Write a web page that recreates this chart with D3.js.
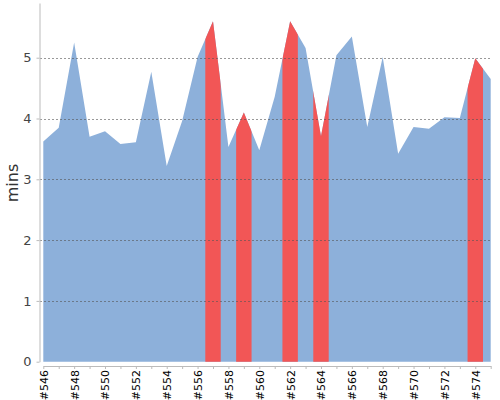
<!DOCTYPE html>
<html>
<head>
<meta charset="utf-8">
<script src="https://cdn.jsdelivr.net/npm/d3@7"></script>
<style>
  body { margin: 0; background: #fff; }
  svg text { font-family: "DejaVu Sans", sans-serif; }
  .y-axis text { fill: #444; font-size: 13px; }
  .x-axis text { fill: #000; font-size: 11px; }
  .axis path, .axis line { stroke: #bbb; }
</style>
</head>
<body>
<div id="chart"></div>
<script>
  var svgWidth = 500;
  var svgHeight = 400;

  // build labels #546 .. #575
  var builds = ["#546", "#547", "#548", "#549", "#550", "#551", "#552", "#553", "#554", "#555",
    "#556", "#557", "#558", "#559", "#560", "#561", "#562", "#563", "#564", "#565",
    "#566", "#567", "#568", "#569", "#570", "#571", "#572", "#573", "#574", "#575"];

  var durations = [3.62, 3.85, 5.25, 3.70, 3.79, 3.58, 3.61, 4.77, 3.22, 3.96,
    5.01, 5.60, 3.53, 4.10, 3.48, 4.36, 5.60, 5.16, 3.71, 5.04,
    5.35, 3.86, 5.01, 3.42, 3.86, 3.83, 4.02, 4.01, 4.99, 4.65];

  // builds drawn in red
  var flagged = ["#557", "#559", "#562", "#564", "#574"];

  var yTicks = [0, 1, 2, 3, 4, 5];

  var data = builds.map(function(b, i) {
    return { build: b, mins: durations[i] };
  });

  var svg = d3.select("#chart")
    .append("svg")
    .attr("width", svgWidth)
    .attr("height", svgHeight);

  var xScale = d3.scalePoint()
    .domain(builds)
    .range([43.3, 490.7]);

  var yScale = d3.scaleLinear()
    .domain([0, 5.9])
    .range([361.7, 3]);

  var step = xScale.step();

  var area = d3.area()
    .x(d => xScale(d.build))
    .y0(yScale(0))
    .y1(d => yScale(d.mins));

  // clip paths for the red bands
  var defs = svg.append("defs");
  var clip = defs.append("clipPath").attr("id", "redClip");
  clip.selectAll("rect")
    .data(flagged)
    .enter()
    .append("rect")
    .attr("x", d => xScale(d) - step / 2)
    .attr("y", 0)
    .attr("width", step)
    .attr("height", svgHeight);

  svg.append("path")
    .datum(data)
    .attr("fill", "#8db0da")
    .attr("d", area);

  svg.append("path")
    .datum(data)
    .attr("fill", "#f25656")
    .attr("clip-path", "url(#redClip)")
    .attr("d", area);

  // dashed grid lines
  svg.append("g").selectAll("line")
    .data(yTicks.slice(1))
    .enter()
    .append("line")
    .attr("x1", 40)
    .attr("x2", 491)
    .attr("y1", d => Math.round(yScale(d)) + 0.5)
    .attr("y2", d => Math.round(yScale(d)) + 0.5)
    .attr("stroke", "#555")
    .attr("stroke-opacity", 0.6)
    .attr("stroke-dasharray", "2,2");

  // y axis
  var leftAxis = d3.axisLeft(yScale)
    .tickValues(yTicks)
    .tickFormat(d3.format("d"))
    .tickSize(3)
    .tickSizeOuter(0)
    .tickPadding(5);

  svg.append("g")
    .attr("class", "axis y-axis")
    .attr("transform", "translate(39.5, 0)")
    .call(leftAxis);

  // x axis, label every second build
  var bottomAxis = d3.axisBottom(xScale)
    .tickSize(3)
    .tickSizeOuter(0)
    .tickFormat((d, i) => i % 2 === 0 ? d : "");

  svg.append("g")
    .attr("class", "axis x-axis")
    .attr("transform", "translate(0, 366)")
    .call(bottomAxis)
    .selectAll("text")
    .attr("transform", "rotate(-90)")
    .attr("x", -4)
    .attr("y", 0)
    .attr("dy", "0.35em")
    .attr("text-anchor", "end");

  // axis label
  svg.append("text")
    .attr("transform", "translate(18, 183) rotate(-90)")
    .attr("text-anchor", "middle")
    .attr("fill", "#333")
    .attr("font-size", "16px")
    .text("mins");
</script>
</body>
</html>
